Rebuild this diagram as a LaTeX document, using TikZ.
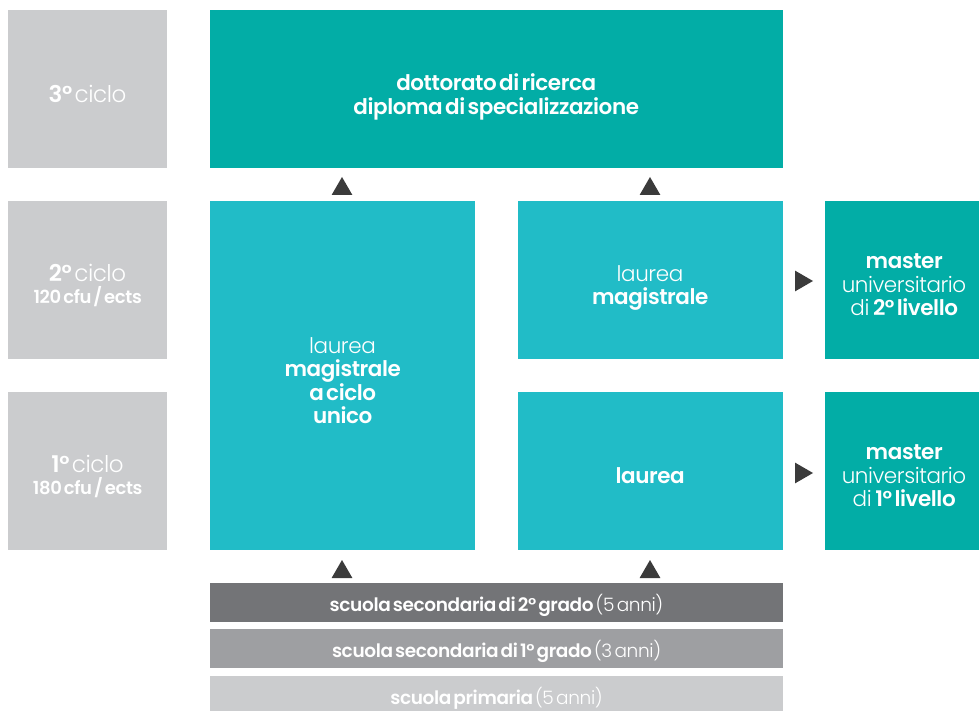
\documentclass[tikz,border=0pt]{standalone}
\usepackage{fontspec}
\setmainfont{Poppins}[UprightFont={* Light},BoldFont={* SemiBold},LetterSpace=-2,WordSpace=0.5]
\usetikzlibrary{shapes.geometric}
\definecolor{tealdark}{HTML}{02ADA6}
\definecolor{teallight}{HTML}{21BCC7}
\definecolor{cyclegray}{HTML}{CBCCCE}
\definecolor{bartwo}{HTML}{737477}
\definecolor{barone}{HTML}{9E9FA2}
\definecolor{marker}{HTML}{3B3B3B}

\begin{document}
\begin{tikzpicture}[x=1pt,y=-1pt]
\tikzstyle{box}=[rectangle,inner sep=0pt]
\tikzstyle{txt}=[inner sep=0pt,align=center,text=white,yshift=-5pt,font=\fontsize{21.5}{23.5}\selectfont]
\tikzstyle{ciclotxt}=[txt,font=\fontsize{23}{24}\selectfont]
\tikzstyle{bartxt}=[txt,yshift=2pt,font=\fontsize{18.5}{20}\selectfont]
\tikzstyle{ciclo}=[box,fill=cyclegray,minimum width=159pt,minimum height=158pt]
\tikzstyle{master}=[box,fill=tealdark,minimum width=154pt,minimum height=158pt]
\tikzstyle{laurea}=[box,fill=teallight,minimum width=265pt,minimum height=158pt]
\tikzstyle{school}=[box,minimum width=573pt,minimum height=39pt]
\tikzstyle{tri}=[regular polygon,regular polygon sides=3,fill=marker,minimum size=24pt,inner sep=0pt]
\def\small{\fontsize{18}{20}\selectfont}
\useasboundingbox (0,0) rectangle (979,711);
% cicli
\node[ciclo] (c3) at (87.5,89) {};
\node[ciclo] (c2) at (87.5,280) {};
\node[ciclo] (c1) at (87.5,471) {};
\node[ciclotxt] (c3txt) at (c3) {\textbf{3°} ciclo};
\node[ciclotxt] (c2txt) at (c2) {\textbf{2°} ciclo\\[-2pt]{\small\textbf{120 cfu / ects}}};
\node[ciclotxt] (c1txt) at (c1) {\textbf{1°} ciclo\\[-2pt]{\small\textbf{180 cfu / ects}}};
% corsi
\node[box,fill=tealdark,minimum width=573pt,minimum height=158pt] (dottorato) at (496,89) {};
\node[box,fill=teallight,minimum width=265pt,minimum height=349pt] (ciclounico) at (342.5,375.5) {};
\node[laurea] (magistrale) at (650,280) {};
\node[laurea] (laurea) at (650,471) {};
\node[master] (master2) at (902,280) {};
\node[master] (master1) at (902,471) {};
\node[txt] (dottoratotxt) at ([yshift=-3pt]dottorato.center) {\textbf{dottorato di ricerca}\\\textbf{diploma di specializzazione}};
\node[txt] (ciclounicotxt) at (ciclounico) {laurea\\\textbf{magistrale}\\\textbf{a ciclo}\\\textbf{unico}};
\node[txt] (magistraletxt) at ([yshift=-3pt]magistrale.center) {laurea\\\textbf{magistrale}};
\node[txt] (laureatxt) at (laurea) {\textbf{laurea}};
\node[txt] (master2txt) at ([xshift=2pt]master2.center) {\textbf{master}\\universitario\\di\,\textbf{2° livello}};
\node[txt] (master1txt) at ([xshift=2pt]master1.center) {\textbf{master}\\universitario\\di\,\textbf{1° livello}};
% scuole
\node[school,fill=bartwo] (sec2) at (496.5,602.5) {};
\node[school,fill=barone] (sec1) at (496.5,648.5) {};
\node[school,fill=cyclegray] (prim) at (496.5,695.5) {};
\node[bartxt] (sec2txt) at (sec2) {\textbf{scuola secondaria di 2° grado} (5 anni)};
\node[bartxt] (sec1txt) at (sec1) {\textbf{scuola secondaria di 1° grado} (3 anni)};
\node[bartxt] (primtxt) at (prim) {\textbf{scuola primaria} (5 anni)};
% frecce
\node[tri] (up1) at (342,189) {};
\node[tri] (up2) at (650,189) {};
\node[tri] (up3) at (342,572) {};
\node[tri] (up4) at (650,572) {};
\node[tri,shape border rotate=-90] (right2) at (801,281) {};
\node[tri,shape border rotate=-90] (right1) at (801,473) {};
\end{tikzpicture}
\end{document}
